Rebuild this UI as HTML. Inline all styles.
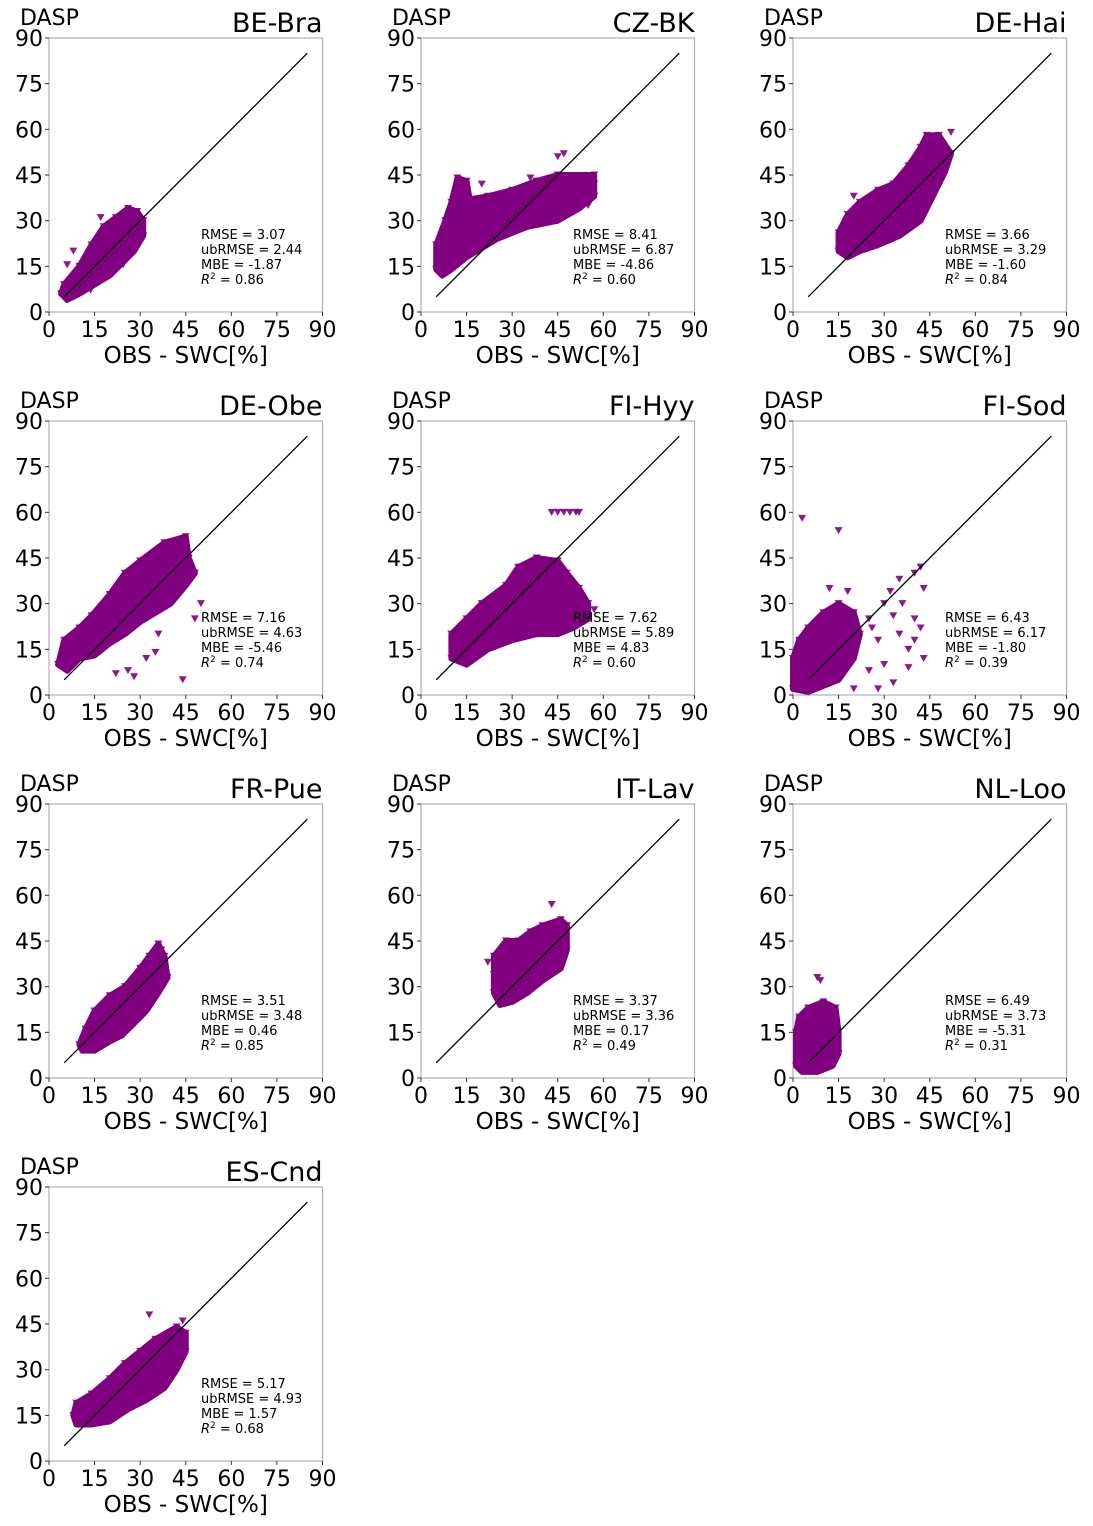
<!DOCTYPE html>
<html><head><meta charset="utf-8"><style>
body{margin:0;background:#fff;width:1093px;height:1526px;overflow:hidden;font-family:"Liberation Sans","DejaVu Sans",sans-serif}
svg{position:absolute;left:0;top:0}
</style></head><body>
<svg id="chart" width="1093" height="1526" xmlns="http://www.w3.org/2000/svg" font-family="'DejaVu Sans','Liberation Sans',sans-serif"></svg>
<script>
const siteNames=["BE-Bra","CZ-BK","DE-Hai","DE-Obe","FI-Hyy","FI-Sod","FR-Pue","IT-Lav","NL-Loo","ES-Cnd"];
const rmse=["3.07","8.41","3.66","7.16","7.62","6.43","3.51","3.37","6.49","5.17"];
const ubrmse=["2.44","6.87","3.29","4.63","5.89","6.17","3.48","3.36","3.73","4.93"];
const mbe=["-1.87","-4.86","-1.60","-5.46","4.83","-1.80","0.46","0.17","-5.31","1.57"];
const r2=["0.86","0.60","0.84","0.74","0.60","0.39","0.85","0.49","0.31","0.68"];
const ticks=[0,15,30,45,60,75,90];
const env0=[[4,6],[5,9],[10,15],[14,22],[18,28],[22,31],[26,34],[29,33],[31,30],[31,25],[28,20],[25,17],[20,12],[15,9],[10,6],[6,4]];
const env1=[[5,14],[5,22],[8,30],[10,36],[12,44],[15,43],[16,37],[22,38],[30,40],[38,43],[45,45],[57,45],[57,38],[52,34],[45,30],[35,28],[25,24],[15,18],[10,14],[7,12]];
const env2=[[15,20],[15,26],[18,32],[22,36],[28,40],[33,42],[38,48],[42,54],[44,58],[48,58],[52,52],[50,46],[46,38],[42,30],[35,25],[28,22],[22,20],[18,18]];
const env3=[[3,10],[5,18],[10,22],[14,26],[20,33],[25,40],[30,44],[38,50],[45,52],[46,45],[48,40],[45,36],[40,30],[35,27],[30,24],[25,20],[20,17],[15,13],[10,12],[6,8]];
const env4=[[10,12],[10,20],[15,25],[20,30],[28,36],[32,42],[38,45],[45,44],[48,40],[52,35],[55,30],[55,25],[50,22],[45,20],[38,20],[30,18],[22,15],[15,10]];
const env5=[[0,2],[0,12],[2,18],[5,22],[10,27],[15,30],[20,27],[22,20],[20,12],[15,5],[10,3],[5,1]];
const env6=[[10,11],[12,16],[15,22],[20,27],[25,30],[30,36],[33,40],[36,44],[38,40],[39,33],[36,28],[32,22],[28,18],[24,14],[20,12],[15,9],[11,9]];
const env7=[[24,34],[24,40],[28,45],[32,45],[36,48],[40,50],[46,52],[48,50],[48,42],[46,36],[40,32],[35,28],[30,25],[26,24],[24,28]];
const env8=[[1,4],[1,15],[2,20],[5,23],[10,25],[14,23],[15,15],[15,8],[13,4],[8,2],[3,2]];
const env9=[[8,15],[9,19],[14,22],[20,27],[25,32],[30,36],[35,40],[42,44],[45,42],[45,36],[42,30],[38,24],[32,20],[26,17],[20,13],[14,12],[9,12]];
const out0=[[17,31],[6,15.5],[13.7,7.2],[24.4,15.5],[8,20]];
const out1=[[45,51],[47,52],[55,35],[57,42],[36,44],[20,42]];
const out2=[[52,59],[20,38]];
const out3=[[22,7],[26,8],[28,6],[32,12],[35,14],[44,5],[48,25],[50,30],[15,15],[36,20]];
const out4=[[43,60],[45,60],[47,60],[49,60],[51,60],[52,60],[38,22],[57,28]];
const out5=[[3,58],[15,54],[25,25],[30,30],[35,38],[40,40],[42,42],[43,35],[40,25],[35,20],[38,15],[42,22],[28,18],[30,10],[25,8],[12,35],[18,34],[32,34],[36,30],[40,18],[43,12],[38,9],[33,4],[28,2],[20,2],[26,22],[33,26]];
const out6=[[11,10],[38,36],[37,42]];
const out7=[[43,57],[26,25],[22,38]];
const out8=[[8,33],[9,32],[11,8]];
const out9=[[33,48],[10,14],[44,46]];
const envs=[env0,env1,env2,env3,env4,env5,env6,env7,env8,env9];
const outs=[out0,out1,out2,out3,out4,out5,out6,out7,out8,out9];

const svg=document.getElementById('chart');
const NS="http://www.w3.org/2000/svg";
const PURPLE="#800080";
function mk(tag,attrs,parent){const e=document.createElementNS(NS,tag);for(const k in attrs)e.setAttribute(k,attrs[k]);parent.appendChild(e);return e;}
function txt(s,attrs,parent){const e=mk('text',attrs,parent);e.textContent=s;return e;}

siteNames.forEach((name,i)=>{
  const col=i%3,row=Math.floor(i/3);
  const L=49+col*372,R=L+273.5,T=38+row*383,B=T+274;
  const sx=v=>L+v*(R-L)/90, sy=v=>B-v*(B-T)/90;
  const g=mk('g',{},svg);
  
  
  // frame
  const fr=mk('rect',{x:L,y:T,width:R-L,height:B-T,fill:'none',stroke:'#b0b0b0','stroke-width':1.2},g);
  
  
  // ticks
  ticks.forEach(t=>{
    mk('line',{x1:sx(t),x2:sx(t),y1:B,y2:B+4,stroke:'#333'},g);
    mk('line',{x1:L-4,x2:L,y1:sy(t),y2:sy(t),stroke:'#333'},g);
    const xt=txt(String(t),{x:sx(t),y:B+25,'font-size':22,'text-anchor':'middle',fill:'#000'},g);
    
    
    const yt=txt(String(t),{x:L-6,y:sy(t)+8,'font-size':22,'text-anchor':'end',fill:'#000'},g);
    
    
  });
  // cloud
  const env=envs[i];
  const poly=mk('polygon',{points:env.map(p=>sx(p[0])+','+sy(p[1])).join(' '),fill:PURPLE,stroke:PURPLE,'stroke-width':6,'stroke-linejoin':'round'},g);
  
  
  const tri=(x,y)=>{const px=sx(x),py=sy(y);const m=mk('polygon',{points:`${px-4},${py-3.5} ${px+4},${py-3.5} ${px},${py+3.5}`,fill:PURPLE,opacity:0.9},g);
    
    };
  env.forEach(p=>tri(p[0],p[1]));
  outs[i].forEach(p=>tri(p[0],p[1]));
  // 1:1 line
  const ln=mk('line',{x1:sx(5),y1:sy(5),x2:sx(85),y2:sy(85),stroke:'#000','stroke-width':1.3},g);
  
  
  // labels
  const t1=txt(name,{x:R,y:T-6,'font-size':27,'text-anchor':'end'},g);
  
  
  const t2=txt('DASP',{x:L-29,y:T-13,'font-size':22},g);
  
  
  const t3=txt('OBS - SWC[%]',{x:(L+R)/2,y:B+51,'font-size':23,'text-anchor':'middle'},g);
  
  
  const st=txt('',{x:L+152,y:B-73,'font-size':13},g);
  
  
  const lines=['RMSE = '+rmse[i],'ubRMSE = '+ubrmse[i],'MBE = '+mbe[i]];
  lines.forEach((s,k)=>{const ts=mk('tspan',{x:L+152,dy:k?15:0},st);ts.textContent=s;});
  const r=mk('tspan',{x:L+152,dy:15,'font-style':'italic'},st);r.textContent='R';
  const sup=mk('tspan',{dy:-5,'font-size':9},st);sup.textContent='2';
  const rest=mk('tspan',{dy:5},st);rest.textContent=' = '+r2[i];
});
</script>
</body></html>
